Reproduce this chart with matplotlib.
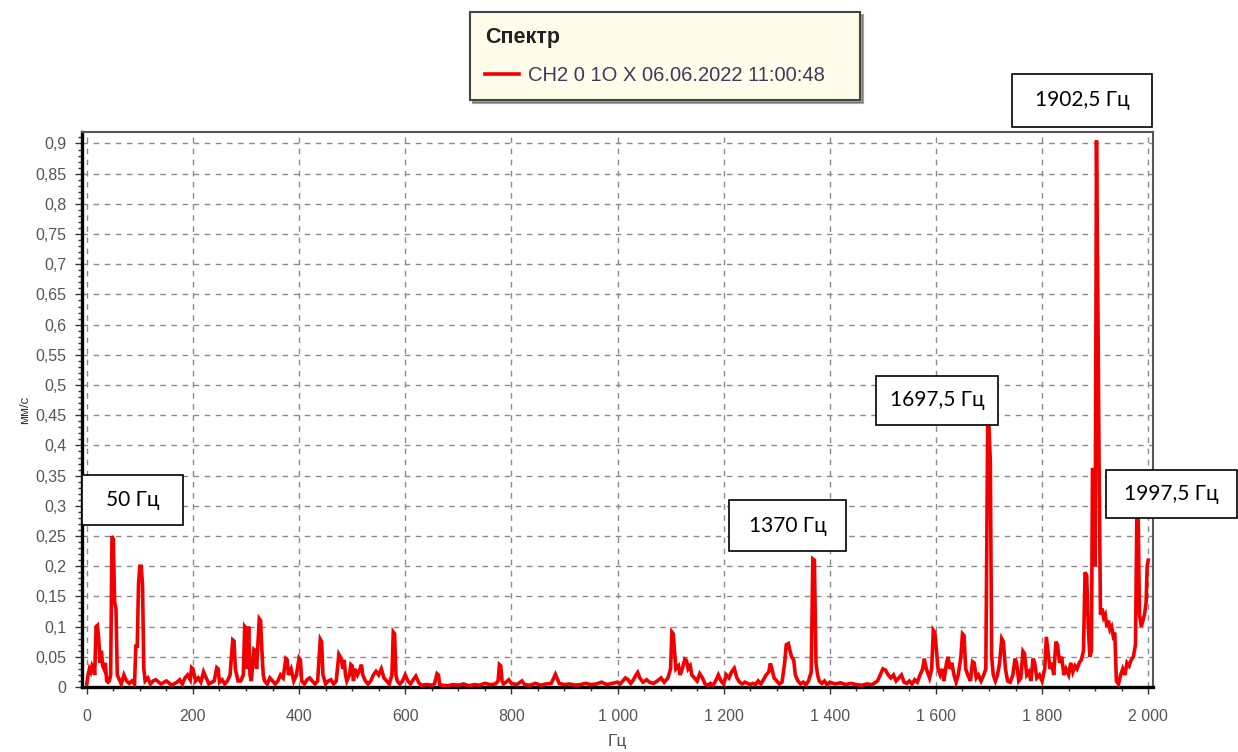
import matplotlib
matplotlib.use('Agg')
import matplotlib.pyplot as plt
from matplotlib.patches import Rectangle
from matplotlib.ticker import MultipleLocator, FuncFormatter

# spectrum (Hz, mm/s)
freq = [0, 2.5, 5, 7.5, 10, 12.5, 15, 17.5, 20, 22.5, 25, 27.5, 30, 32.5, 35, 37.5, 40, 42.5, 45,
        47.5, 50, 52.5, 55, 57.5, 60, 65, 70, 75, 80, 85, 90, 92.5, 95, 97.5, 100, 102.5, 105, 107.5,
        110, 115, 120, 125, 130, 140, 150, 160, 170, 175, 180, 185, 190, 195, 197.5, 200, 205,
        210, 215, 220, 225, 230, 240, 245, 247.5, 250, 255, 260, 265, 270, 275, 277.5, 280, 285,
        290, 295, 297.5, 300, 302.5, 305, 307.5, 310, 315, 317.5, 320, 325, 327.5, 330, 332.5, 335,
        340, 345, 350, 355, 360, 365, 370, 375, 377.5, 380, 385, 390, 395, 400, 402.5, 405,
        410, 415, 420, 425, 430, 435, 440, 442.5, 445, 450, 455, 460, 465, 470, 475, 477.5, 480,
        482.5, 485, 487.5, 490, 495, 497.5, 500, 502.5, 505, 510, 515, 517.5, 520, 525, 530, 535,
        540, 545, 550, 555, 560, 565, 570, 575, 577.5, 580, 582.5, 585, 590, 595, 600, 605, 610,
        615, 620, 625, 630, 640, 650, 655, 660, 662.5, 665, 670, 680, 690, 700, 710, 720, 730, 740,
        750, 760, 770, 775, 777.5, 780, 782.5, 785, 790, 795, 800,
        810, 820, 825, 835, 845, 855, 865, 875, 880, 883, 886, 890, 900, 910, 920, 930, 940, 950,
        960, 970, 980, 990, 1000, 1005, 1010, 1015, 1020, 1025, 1030, 1035, 1038, 1042, 1048, 1055,
        1060, 1068, 1075, 1082, 1088, 1095, 1100, 1102.5, 1105, 1107.5, 1110, 1115, 1118, 1122,
        1127, 1130, 1133, 1137, 1140, 1145, 1150, 1155, 1160, 1165, 1170, 1175, 1180, 1185, 1190,
        1195, 1200,
        1205, 1210, 1215, 1220, 1225, 1230, 1235, 1240, 1250, 1255, 1260, 1265, 1270, 1275, 1280,
        1285, 1288, 1291, 1295, 1300, 1305, 1310, 1315, 1318, 1322, 1325, 1328, 1332, 1335, 1340,
        1345, 1350, 1355, 1360, 1365, 1368, 1371, 1374, 1377, 1380, 1385, 1390, 1395, 1400, 1410,
        1420, 1430, 1440, 1450, 1460, 1470, 1480, 1490, 1495, 1500, 1505, 1510, 1515, 1520, 1525,
        1530, 1535, 1540, 1545, 1550, 1555, 1560, 1565, 1570, 1575, 1578, 1582, 1588, 1592, 1595,
        1598, 1601, 1604,
        1608, 1612, 1615, 1620, 1623, 1626, 1630, 1634, 1638, 1642, 1647, 1650, 1653, 1656, 1660,
        1665, 1669, 1672, 1676, 1680, 1685, 1690, 1694, 1697.5, 1700, 1702.5, 1705, 1708, 1712,
        1716, 1720, 1724, 1727, 1731, 1735, 1740, 1745, 1749, 1752, 1756, 1760, 1764, 1767, 1771,
        1775, 1779, 1783, 1786, 1790, 1795, 1800, 1805, 1808, 1811, 1815, 1818, 1822, 1826, 1829,
        1833, 1837, 1841, 1845, 1850, 1854, 1858, 1862, 1866, 1870, 1874, 1878, 1881, 1884, 1887,
        1890, 1893, 1895, 1897.5, 1900, 1902.5, 1905, 1907.5, 1910, 1913, 1916, 1919, 1922, 1925,
        1928, 1931, 1934, 1937, 1940, 1944, 1948, 1952, 1956, 1960, 1964, 1968, 1972, 1976,
        1978.5, 1981, 1983.5, 1987, 1990, 1993, 1996, 1998, 2000]

amp = [0.005, 0.02, 0.03, 0.025, 0.035, 0.03, 0.02, 0.1, 0.102, 0.08, 0.04, 0.06, 0.035, 0.03,
       0.04, 0.01, 0.008, 0.01, 0.02, 0.25, 0.245, 0.14, 0.13, 0.02, 0.015, 0.005, 0.02, 0.01,
       0.006, 0.01, 0.005, 0.07, 0.065, 0.17, 0.2, 0.2, 0.17, 0.03, 0.01, 0.015, 0.005, 0.01, 0.012,
       0.005, 0.01, 0.003, 0.008, 0.012, 0.005, 0.015, 0.02, 0.012, 0.032, 0.03, 0.01,
       0.015, 0.008, 0.025, 0.015, 0.005, 0.01, 0.032, 0.03, 0.008, 0.012, 0.005, 0.01, 0.02,
       0.078, 0.076, 0.03, 0.01, 0.01, 0.02, 0.1, 0.097, 0.03, 0.1, 0.02, 0.01, 0.062, 0.06, 0.03,
       0.113, 0.11, 0.06, 0.02, 0.01, 0.005, 0.015, 0.01, 0.005, 0.01, 0.02, 0.015, 0.047, 0.045,
       0.02, 0.03, 0.01, 0.02, 0.048, 0.045, 0.01,
       0.005, 0.012, 0.015, 0.01, 0.005, 0.01, 0.079, 0.075, 0.02, 0.005, 0.01, 0.012, 0.005,
       0.01, 0.054, 0.05, 0.045, 0.03, 0.045, 0.02, 0.01, 0.02, 0.037, 0.035, 0.01, 0.03, 0.02,
       0.03, 0.037, 0.02, 0.01, 0.005, 0.01, 0.02, 0.026, 0.02, 0.03, 0.015, 0.01, 0.005, 0.02,
       0.091, 0.088, 0.02, 0.01, 0.005, 0.01, 0.02, 0.01, 0.005, 0.012, 0.018, 0.008, 0.003,
       0.004, 0.003, 0.005, 0.022, 0.02, 0.004, 0.003, 0.002, 0.004, 0.003, 0.005, 0.002, 0.004,
       0.003, 0.006, 0.004, 0.005, 0.01, 0.037, 0.035, 0.01, 0.005, 0.008, 0.012, 0.006,
       0.004, 0.01, 0.004, 0.003, 0.006, 0.003, 0.005, 0.006, 0.015, 0.021, 0.015, 0.006, 0.004,
       0.005, 0.003, 0.004, 0.006, 0.004, 0.005, 0.008, 0.004, 0.006, 0.008, 0.005, 0.01, 0.015,
       0.012, 0.006, 0.012, 0.02, 0.024, 0.015, 0.008, 0.012, 0.008, 0.006, 0.01, 0.015, 0.008,
       0.015, 0.03, 0.091, 0.088, 0.06, 0.03, 0.035, 0.02, 0.03, 0.046, 0.044, 0.03, 0.035, 0.02,
       0.015, 0.01, 0.022, 0.015, 0.005, 0.003, 0.006, 0.003, 0.01, 0.02, 0.01, 0.005,
       0.02, 0.015, 0.025, 0.031, 0.015, 0.008, 0.005, 0.008, 0.004, 0.006, 0.004, 0.01, 0.005,
       0.012, 0.02, 0.025, 0.039, 0.03, 0.015, 0.01, 0.005, 0.008, 0.04, 0.07, 0.072, 0.06, 0.05,
       0.045, 0.02, 0.01, 0.005, 0.008, 0.004, 0.01, 0.025, 0.212, 0.21, 0.04, 0.02, 0.01, 0.006,
       0.01, 0.004, 0.008, 0.005, 0.007, 0.004, 0.006, 0.004, 0.003, 0.005, 0.004, 0.01, 0.02,
       0.03, 0.028, 0.02, 0.015, 0.02, 0.01, 0.015, 0.02, 0.008, 0.006, 0.01, 0.005, 0.012, 0.008,
       0.02, 0.03, 0.047, 0.03, 0.015, 0.03, 0.094, 0.09, 0.06, 0.03,
       0.02, 0.03, 0.01, 0.04, 0.05, 0.03, 0.04, 0.02, 0.008, 0.02, 0.05, 0.088, 0.085, 0.03,
       0.02, 0.01, 0.042, 0.04, 0.015, 0.02, 0.01, 0.02, 0.03, 0.43, 0.43, 0.373, 0.05, 0.02,
       0.01, 0.02, 0.04, 0.08, 0.075, 0.03, 0.01, 0.008, 0.02, 0.047, 0.04, 0.01, 0.015, 0.059,
       0.055, 0.02, 0.025, 0.01, 0.047, 0.04, 0.015, 0.02, 0.01, 0.03, 0.083, 0.06, 0.03, 0.04,
       0.02, 0.075, 0.07, 0.04, 0.05, 0.02, 0.03, 0.02, 0.04, 0.025, 0.035, 0.03, 0.04, 0.045,
       0.06, 0.19, 0.185, 0.1, 0.05, 0.06, 0.36, 0.36, 0.2, 0.905, 0.65, 0.36, 0.12, 0.13, 0.115,
       0.12, 0.1, 0.11, 0.095, 0.1, 0.085, 0.09, 0.01, 0.005, 0.02, 0.03, 0.02, 0.04, 0.035,
       0.045, 0.05, 0.07, 0.28, 0.29, 0.12, 0.1, 0.11, 0.12, 0.14, 0.2, 0.21]

series_name = 'CH2 0 1O X 06.06.2022 11:00:48'
legend_title = 'Спектр'
peak_labels = ['50 Гц', '1370 Гц', '1697,5 Гц', '1902,5 Гц', '1997,5 Гц']
# label boxes in pixels: left, top, right, bottom
peak_boxes = [(82, 475, 183, 525), (729, 500, 846, 551), (876, 376, 998, 425),
              (1012, 74, 1152, 127), (1106, 470, 1237, 518)]

W, H = 1238, 752
fig = plt.figure(figsize=(W / 100, H / 100), dpi=100)
ax = fig.add_axes([82 / W, 1 - 687 / H, (1153 - 82) / W, (687 - 132) / H])

line, = ax.plot(freq, amp, color='#f20000', lw=2.6, solid_joinstyle='miter', zorder=3)

ax.set_xlim(-9, 2009)
ax.set_ylim(0, 0.919)
ax.xaxis.set_major_locator(MultipleLocator(200))
ax.xaxis.set_minor_locator(MultipleLocator(50))
ax.yaxis.set_major_locator(MultipleLocator(0.05))
ax.yaxis.set_minor_locator(MultipleLocator(0.01))
ax.xaxis.set_major_formatter(FuncFormatter(lambda v, p: '{:,}'.format(int(round(v))).replace(',', ' ')))
ax.yaxis.set_major_formatter(FuncFormatter(lambda v, p: ('%g' % round(v, 2)).replace('.', ',')))

ax.grid(True, which='major', color='#8a8a8a', lw=1.0, ls=(0, (4, 4)))
ax.tick_params(which='major', direction='out', length=5, width=1, color='#333333',
               labelsize=11.5, labelcolor='#555555', pad=6)
ax.tick_params(axis='x', which='major', pad=11)
ax.tick_params(which='minor', direction='out', length=3, width=1, color='#333333')
for lab in ax.get_xticklabels() + ax.get_yticklabels():
    lab.set_family('Liberation Sans')

ax.spines['left'].set_linewidth(2.4)
ax.spines['bottom'].set_linewidth(2.4)
for s in ['top', 'right']:
    ax.spines[s].set_linewidth(1.5)
    ax.spines[s].set_color('#555555')

ax.set_xlabel('Гц', fontsize=12.5, color='#555555', family='Liberation Sans', labelpad=7)
ax.set_ylabel('мм/с', fontsize=9.5, color='#333333', family='Liberation Sans', labelpad=3)

# legend box on top
leg = fig.legend([line], [series_name], title=legend_title, loc='upper left',
                 bbox_to_anchor=(470 / W, 1 - 12 / H - 0.01, 390 / W, 0.01), mode='expand',
                 borderaxespad=0, fancybox=False, shadow=True, framealpha=1,
                 facecolor='#fffde9', edgecolor='#444444', handlelength=1.7,
                 handletextpad=0.45, borderpad=0.75, labelspacing=0.9,
                 prop={'family': 'Liberation Sans', 'size': 14.5},
                 title_fontproperties={'family': 'Liberation Sans', 'size': 15.5, 'weight': 'bold'})
leg._legend_box.align = 'left'
leg.get_frame().set_linewidth(1.5)
for t in leg.get_texts():
    t.set_color('#3b3b5c')
leg.get_title().set_color('#222222')

# peak labels
for lab, (x0, y0, x1, y1) in zip(peak_labels, peak_boxes):
    fig.patches.append(Rectangle((x0 / W, 1 - y1 / H), (x1 - x0) / W, (y1 - y0) / H,
                                 transform=fig.transFigure, facecolor='white',
                                 edgecolor='black', lw=1.2, zorder=5))
    fig.text((x0 + x1) / 2 / W, 1 - (y0 + y1) / 2 / H, lab, ha='center', va='center',
             fontsize=15, family='Lato', color='black', zorder=6)

fig.savefig('out.png', dpi=100)
